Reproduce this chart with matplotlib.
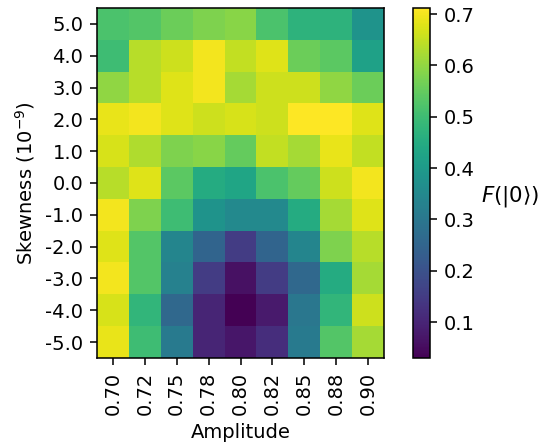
import numpy as np
import matplotlib
matplotlib.use("Agg")
import matplotlib.pyplot as plt

amplitudes = ["0.70", "0.72", "0.75", "0.78", "0.80", "0.82", "0.85", "0.88", "0.90"]
skewness = ["5.0", "4.0", "3.0", "2.0", "1.0", "0.0", "-1.0", "-2.0", "-3.0", "-4.0", "-5.0"]

# Ground-state fidelity per (skewness, amplitude); rows follow `skewness` top to bottom
fidelity = [
    [0.52, 0.53, 0.56, 0.58, 0.59, 0.52, 0.47, 0.47, 0.38],
    [0.50, 0.64, 0.66, 0.70, 0.65, 0.68, 0.56, 0.54, 0.42],
    [0.60, 0.64, 0.68, 0.70, 0.62, 0.66, 0.66, 0.60, 0.56],
    [0.69, 0.70, 0.68, 0.66, 0.67, 0.66, 0.72, 0.73, 0.68],
    [0.67, 0.63, 0.58, 0.59, 0.55, 0.65, 0.62, 0.69, 0.65],
    [0.64, 0.68, 0.54, 0.45, 0.43, 0.52, 0.55, 0.66, 0.70],
    [0.70, 0.58, 0.50, 0.38, 0.35, 0.35, 0.45, 0.62, 0.68],
    [0.68, 0.53, 0.34, 0.25, 0.15, 0.25, 0.34, 0.58, 0.64],
    [0.70, 0.53, 0.33, 0.15, 0.06, 0.15, 0.26, 0.45, 0.62],
    [0.67, 0.48, 0.26, 0.10, 0.03, 0.08, 0.30, 0.48, 0.66],
    [0.69, 0.50, 0.31, 0.10, 0.07, 0.12, 0.31, 0.53, 0.62],
]

DPI = 140
fig = plt.figure(figsize=(543 / DPI, 444 / DPI), dpi=DPI)
ax = fig.add_axes([97 / 543, 1 - 358 / 444, 287 / 543, 350 / 444])
cax = fig.add_axes([413 / 543, 1 - 358 / 444, 17 / 543, 350 / 444])

data = np.array(fidelity)
im = ax.imshow(data, cmap="viridis", aspect="auto", vmin=0.03, vmax=0.712)

ax.set_xticks(range(len(amplitudes)))
ax.set_xticklabels(amplitudes, rotation=90)
ax.set_yticks(range(len(skewness)))
ax.set_yticklabels(skewness)
ax.set_xlabel("Amplitude")
ax.set_ylabel("Skewness ($10^{-9}$)")

cb = fig.colorbar(im, cax=cax)
cb.set_ticks([0.1, 0.2, 0.3, 0.4, 0.5, 0.6, 0.7])
cb.set_label(r"$F(|0\rangle)$", rotation=0, fontsize=11, ha="left", va="center")
cb.ax.yaxis.set_label_coords(4.0, 0.46)

fig.savefig("out.png", dpi=DPI)
